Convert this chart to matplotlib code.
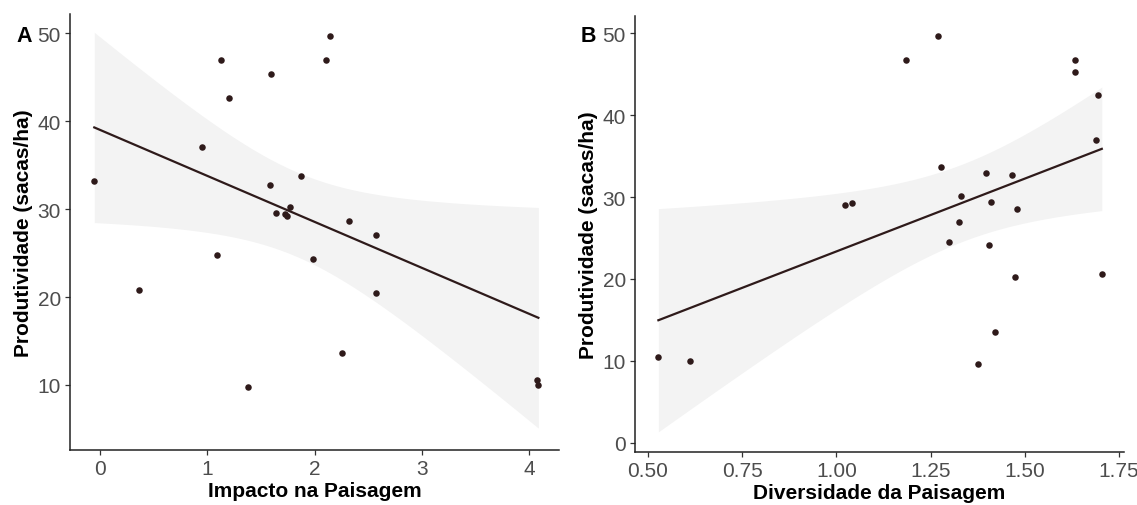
import numpy as np
import matplotlib
matplotlib.use("Agg")
import matplotlib.pyplot as plt

plt.rcParams['font.family'] = ['Liberation Sans', 'DejaVu Sans']

# Panel A data: Impacto na Paisagem vs Produtividade
impacto = [-0.054, 0.366, 0.955, 1.094, 1.131, 1.206, 1.378, 1.585, 1.595, 1.639,
           1.727, 1.744, 1.774, 1.869, 1.984, 2.103, 2.144, 2.259, 2.323, 2.574,
           2.574, 4.077, 4.087]
prod_a = [33.2, 20.84, 37.03, 24.82, 46.93, 42.68, 9.76, 32.78, 45.37, 29.56,
          29.41, 29.18, 30.2, 33.81, 24.33, 46.93, 49.73, 13.63, 28.69, 27.02,
          20.46, 10.56, 10.03]

# Panel B data: Diversidade da Paisagem vs Produtividade
diversidade = [0.528, 0.612, 1.024, 1.041, 1.185, 1.269, 1.277, 1.300, 1.324, 1.331,
               1.376, 1.396, 1.406, 1.409, 1.421, 1.465, 1.475, 1.478, 1.633, 1.633,
               1.689, 1.695, 1.704]
prod_b = [10.46, 9.93, 28.99, 29.28, 46.78, 49.67, 33.67, 24.55, 26.91, 30.09,
          9.65, 32.98, 24.14, 29.40, 13.52, 32.70, 20.28, 28.54, 46.78, 45.24,
          36.97, 42.51, 20.56]

xticks_a = [0, 1, 2, 3, 4]
yticks_a = [10, 20, 30, 40, 50]
xticks_b = [0.50, 0.75, 1.00, 1.25, 1.50, 1.75]
yticks_b = [0, 10, 20, 30, 40, 50]

T_CRIT = 2.0796  # t(0.975, df=21)

PT_COLOR = '#2e1a1a'
LINE_COLOR = '#2e1a1a'
BAND_COLOR = '#f3f3f3'
TICK_COLOR = '#4d4d4d'
FS = 15


def lm_band(x, y):
    x = np.asarray(x, float)
    y = np.asarray(y, float)
    n = len(x)
    b1, b0 = np.polyfit(x, y, 1)
    resid = y - (b0 + b1 * x)
    s = np.sqrt(np.sum(resid ** 2) / (n - 2))
    xm = x.mean()
    sxx = np.sum((x - xm) ** 2)
    xs = np.linspace(x.min(), x.max(), 80)
    fit = b0 + b1 * xs
    se = s * np.sqrt(1.0 / n + (xs - xm) ** 2 / sxx)
    return xs, fit, fit - T_CRIT * se, fit + T_CRIT * se


def style(ax, xticks, yticks, xticklabels):
    for side in ['top', 'right']:
        ax.spines[side].set_visible(False)
    for side in ['left', 'bottom']:
        ax.spines[side].set_color('#222222')
        ax.spines[side].set_linewidth(1.1)
    ax.set_xticks(xticks)
    ax.set_xticklabels(xticklabels)
    ax.set_yticks(yticks)
    ax.tick_params(axis='both', colors='#333333', length=3.5, width=0.9,
                   labelsize=FS, labelcolor=TICK_COLOR, pad=3)


def panel(ax, x, y):
    xs, fit, lo, hi = lm_band(x, y)
    ax.fill_between(xs, lo, hi, color=BAND_COLOR, lw=0, zorder=1)
    ax.plot(xs, fit, color=LINE_COLOR, lw=1.6, zorder=2)
    ax.scatter(x, y, s=22, color=PT_COLOR, zorder=3, linewidths=0)


fig = plt.figure(figsize=(11.37, 5.06), dpi=100)

axA = fig.add_axes([0.0616, 0.1087, 0.4301, 0.8617])
panel(axA, impacto, prod_a)
style(axA, xticks_a, yticks_a, [str(v) for v in xticks_a])
axA.set_xlim(-0.28, 4.28)
axA.set_ylim(2.6, 52.2)
axA.set_xlabel('Impacto na Paisagem', fontsize=FS, fontweight='bold', labelpad=2)
axA.set_ylabel('Produtividade (sacas/ha)', fontsize=FS, fontweight='bold', labelpad=3)

axB = fig.add_axes([0.5585, 0.1053, 0.4301, 0.8611])
panel(axB, diversidade, prod_b)
style(axB, xticks_b, yticks_b, ['%.2f' % v for v in xticks_b])
axB.set_xlim(0.466, 1.763)
axB.set_ylim(-1.1, 52.1)
axB.set_xlabel('Diversidade da Paisagem', fontsize=FS, fontweight='bold', labelpad=2)
axB.set_ylabel('Produtividade (sacas/ha)', fontsize=FS, fontweight='bold', labelpad=3)

fig.text(24 / 1137, 1 - 36 / 506, 'A', fontsize=15.5, fontweight='bold', ha='center', va='center')
fig.text(588 / 1137, 1 - 36 / 506, 'B', fontsize=15.5, fontweight='bold', ha='center', va='center')

fig.savefig('out.png', dpi=100)
